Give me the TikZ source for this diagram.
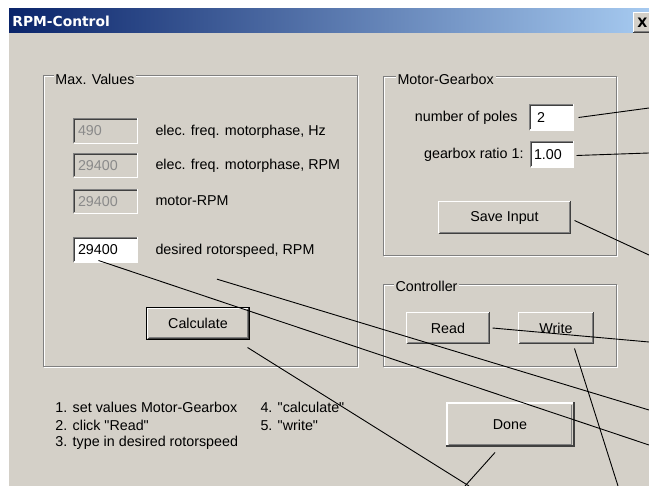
\documentclass[tikz,border=0pt]{standalone}
\usepackage{fontspec}
\setmainfont{Liberation Sans}[Ligatures=TeXOff]
\newfontfamily\titlefont{DejaVu Sans}
\usetikzlibrary{calc}
\definecolor{winbg}{HTML}{D4D0C8}
\definecolor{wdk}{HTML}{808080}
\definecolor{wvdk}{HTML}{404040}
\definecolor{tbl}{HTML}{0A246A}
\definecolor{tbr}{HTML}{A6CAF0}
\definecolor{distext}{HTML}{8A8A8A}
\newcommand\sq{\char34\relax}
\newcommand\mysunken[1]{%
  \draw[wdk] (#1.south west) -- (#1.north west) -- (#1.north east);
  \draw[white] (#1.north east) -- (#1.south east) -- (#1.south west);
  \draw[wvdk] ($(#1.south west)+(1,-1)$) -- ($(#1.north west)+(1,1)$) -- ($(#1.north east)+(-1,1)$);
}
\newcommand\myraised[1]{%
  \draw[white] (#1.south west) -- (#1.north west) -- (#1.north east);
  \draw[wvdk] (#1.north east) -- (#1.south east) -- (#1.south west);
  \draw[wdk] ($(#1.north east)+(-1,1)$) -- ($(#1.south east)+(-1,-1)$) -- ($(#1.south west)+(1,-1)$);
}
\newcommand\mygroup[2]{%
  \draw[white] ($(#1)+(1,1)$) rectangle ($(#2)+(1,1)$);
  \draw[wdk] (#1) rectangle (#2);
}
\begin{document}
\begin{tikzpicture}[x=1pt,y=-1pt,line width=1pt,
  every node/.style={font=\fontsize{14.3}{17}\selectfont},
  lab/.style={inner sep=1pt},
  grplab/.style={inner xsep=2pt,inner ysep=0pt,fill=winbg,anchor=west},
  tbox/.style={rectangle,inner xsep=4pt,inner ysep=0pt,align=left},
  disbox/.style={tbox,fill=winbg,text=distext},
  enbox/.style={tbox,fill=white,text=black},
  btn/.style={rectangle,inner sep=0pt,fill=winbg},
  conn/.style={black,line width=0.9pt}]
\useasboundingbox (0,0) rectangle (649,486);
\clip (0,0) rectangle (649,486);
% window
\fill[white] (0,0) rectangle (649,486);
\fill[winbg] (9,33) rectangle (649,486);
\shade[left color=tbl,right color=tbr,shading angle=90] (9,9) rectangle (649,33);
\node[anchor=west,text=white,inner sep=0pt,font=\titlefont\bfseries\fontsize{13.8}{16}\selectfont] (title) at (12,21.5) {RPM-Control};
\node[btn,minimum width=18,minimum height=19,anchor=north west,font=\titlefont\bfseries\fontsize{13}{14}\selectfont] (closebtn) at (633,13) {X};
\myraised{closebtn}

% group boxes
\mygroup{43,76}{357,367}
\mygroup{383,77}{616,256}
\mygroup{383,285}{616,367}
\node[grplab] (mvlab) at (53,79) {Max. Values};
\node[grplab] (mglab) at (395,79) {Motor-Gearbox};
\node[grplab] (ctlab) at (393,286) {Controller};

% Max values fields
\node[disbox,text width=55,minimum height=24] (hz) at (105.5,131) {490};
\node[disbox,text width=55,minimum height=23] (erpm) at (105.5,165.5) {29400};
\node[disbox,text width=55,minimum height=23] (mrpm) at (105.5,201.5) {29400};
\node[enbox,text width=55,minimum height=24] (des) at (105.5,250) {29400};
\mysunken{hz}\mysunken{erpm}\mysunken{mrpm}\mysunken{des}
\node[lab,anchor=west] (hzl) at (154,131.5) {elec. freq. motorphase, Hz};
\node[lab,anchor=west] (erpml) at (154,166) {elec. freq. motorphase, RPM};
\node[lab,anchor=west] (mrpml) at (154,201) {motor-RPM};
\node[lab,anchor=west] (desl) at (154,251) {desired rotorspeed, RPM};

% Motor-Gearbox
\node[lab,anchor=east] (polesl) at (519,118) {number of poles};
\node[lab,anchor=east] (ratiol) at (525,155) {gearbox ratio 1:};
\node[enbox,inner xsep=3pt,text width=37,minimum height=25] (poles) at (551.5,117.5) {\hspace{4pt}2};
\node[enbox,inner xsep=3pt,text width=36,minimum height=25] (ratio) at (552,154.5) {1.00};
\mysunken{poles}\mysunken{ratio}

% buttons
\node[btn,minimum width=131,minimum height=31] (save) at (504.5,217.5) {Save Input};
\node[btn,minimum width=102,minimum height=31] (calc) at (198,323.5) {Calculate};
\node[btn,minimum width=82,minimum height=30] (read) at (448,328) {Read};
\node[btn,minimum width=74,minimum height=30] (write) at (556,328) {Write};
\node[btn,minimum width=128,minimum height=44] (done) at (510,425) {Done};
\myraised{save}\myraised{read}\myraised{write}
\draw[black] (calc.south west) rectangle (calc.north east);
\draw[white] ($(calc.south west)+(1,-1)$) -- ($(calc.north west)+(1,1)$) -- ($(calc.north east)+(-1,1)$);
\draw[wvdk] ($(calc.north east)+(-1,1)$) -- ($(calc.south east)+(-1,-1)$) -- ($(calc.south west)+(1,-1)$);
\draw[wdk] ($(calc.north east)+(-2,2)$) -- ($(calc.south east)+(-2,-2)$) -- ($(calc.south west)+(2,-2)$);
\draw[white,line width=2pt] ($(done.south west)+(1,0)$) -- ($(done.north west)+(1,1)$) -- ($(done.north east)+(0,1)$);
\draw[wvdk,line width=2pt] ($(done.north east)+(-1,0)$) -- ($(done.south east)+(-1,-1)$) -- ($(done.south west)+(0,-1)$);
\draw[wdk] ($(done.north east)+(-3,3)$) -- ($(done.south east)+(-3,-3)$) -- ($(done.south west)+(3,-3)$);

% instructions
\node[lab,anchor=west] (i1) at (54,407) {1. set values Motor-Gearbox};
\node[lab,anchor=west] (i2) at (54,425) {2. click \sq Read\sq};
\node[lab,anchor=west] (i3) at (54,443) {3. type in desired rotorspeed};
\node[lab,anchor=west] (i4) at (259,407) {4. \sq calculate\sq};
\node[lab,anchor=west] (i5) at (259,425) {5. \sq write\sq};

% connector free ends
\coordinate (e1) at (649,108);
\coordinate (e2) at (649,153);
\coordinate (e3) at (649,255);
\coordinate (e4) at (649,342);
\coordinate (e5) at (618,486);
\coordinate (e6) at (649,445);
\coordinate (e7) at (649,410);
\coordinate (e8) at (469,486);
\coordinate (e9) at (465,486);
\draw[conn] ($(poles.east)+(5,0)$) -- (e1);
\draw[conn] ($(ratio.east)+(3,1)$) -- (e2);
\draw[conn] ($(save.east)+(4,3)$) -- (e3);
\draw[conn] ($(read.east)+(3,0)$) -- (e4);
\draw[conn] ($(write.south east)+(-19,5)$) -- (e5);
\draw[conn] ($(des.south)+(-7,-2)$) -- (e6);
\draw[conn] ($(desl.south west)+(63,20)$) -- (e7);
\draw[conn] ($(calc.south east)+(-2,8)$) -- (e8);
\draw[conn] ($(done.south)+(-15,5)$) -- (e9);
\end{tikzpicture}
\end{document}
